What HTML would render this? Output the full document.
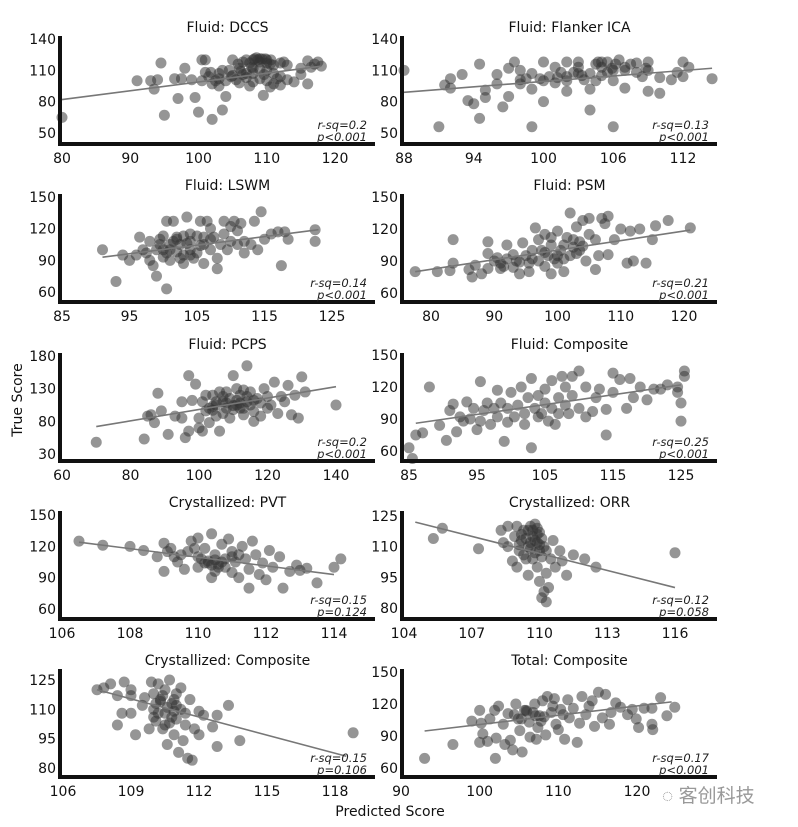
<!DOCTYPE html>
<html><head><meta charset="utf-8">
<style>
html,body{margin:0;padding:0;background:#fff;}
svg{display:block;font-family:"DejaVu Sans","Liberation Sans",sans-serif;}
</style></head>
<body>
<svg id="chart" width="798" height="827" viewBox="0 0 798 827"></svg>
<script>
const titles = ["Fluid: DCCS","Fluid: Flanker ICA","Fluid: LSWM","Fluid: PSM","Fluid: PCPS","Fluid: Composite","Crystallized: PVT","Crystallized: ORR","Crystallized: Composite","Total: Composite"];
const xTickVals = [[80,90,100,110,120],[88,94,100,106,112],[85,95,105,115,125],[80,90,100,110,120],[60,80,100,120,140],[85,95,105,115,125],[106,108,110,112,114],[104,107,110,113,116],[106,109,112,115,118],[90,100,110,120]];
const yTickVals = [[50,80,110,140],[50,80,110,140],[60,90,120,150],[60,90,120,150],[30,80,130,180],[60,90,120,150],[60,90,120,150],[80,95,110,125],[80,95,110,125],[60,90,120,150]];
const rsq = ["r-sq=0.2","r-sq=0.13","r-sq=0.14","r-sq=0.21","r-sq=0.2","r-sq=0.25","r-sq=0.15","r-sq=0.12","r-sq=0.15","r-sq=0.17"];
const pvals = ["p<0.001","p<0.001","p<0.001","p<0.001","p<0.001","p<0.001","p=0.124","p=0.058","p=0.106","p<0.001"];
const fitLines = [[80,82,118,114],[88,89,114.5,112],[91,93,123,119],[77.5,80,121,119],[70,72,140,133],[86,86,125,122],[106.5,124,114,93],[104.5,122,116,90],[107.5,120,118.5,86],[93,94.7,124.4,122]];

const dccsPts = [[80,65],[91,100],[93,100],[93.5,92],[94,101],[94.5,117],[95,67],[96.5,102],[97,83],[97.5,102],[98,112],[99,101],[99.5,84],[100,70],[100.5,120],[101,120],[101,108],[101.5,104],[102,97],[102,63],[103,107],[103,95],[103.5,72],[104,85],[104,100],[104.5,110],[105,120],[105,105],[106,98],[106,112],[106.5,118],[107,120],[107,107],[107.5,95],[108,112],[108,120],[108.5,122],[109,121],[109,118],[109,102],[109.5,86],[110,120],[110,110],[110,100],[110.5,94],[111,115],[111,97],[112,117],[112,104],[112,96],[112.5,118],[113,101],[114,99],[115,106],[115,112],[116,97],[116,119],[116.5,113],[117,116],[117.5,118],[118,114],[107,103],[105.5,101],[108,99],[111,107],[113,115],[103.5,110],[100.5,100],[109,111],[110.5,116],[108,107],[106.5,106],[108.7,120],[109.3,121],[107.5,117],[110,117],[108.2,121],[109.8,121],[110.6,120],[107.8,113],[106.2,109],[104.8,104],[102.5,100],[111.5,102],[109.6,106],[105.8,116],[101.8,108],[103,102]];
const flankerPts = [[88,110],[91,56],[91.5,96],[92,93],[93,106],[93.5,81],[94,78],[94.5,64],[94.5,116],[95,91],[95,84],[96,97],[96,106],[96.5,75],[97,85],[97,112],[97.5,118],[98,97],[98,110],[98.5,102],[99,107],[99,92],[99,56],[100,118],[100,100],[100,80],[101,98],[101,113],[101.5,108],[102,118],[102,100],[102,90],[103,118],[103,107],[103.5,101],[104,72],[104,92],[104.5,100],[105,118],[105,113],[105.5,108],[106,110],[106,100],[106,56],[106.5,120],[107,113],[107,93],[107.5,116],[108,117],[108,108],[108.5,104],[109,110],[109,118],[109,90],[110,88],[110,103],[111,101],[111.5,108],[112,118],[112.5,113],[112,104],[114.5,102],[104,107],[103,113],[100.5,104],[105,105],[107,110],[102,104],[98,101],[92,102],[104.5,116],[105.5,118],[104.7,118],[106.2,116],[103.3,105],[101.2,103],[99.7,102],[102.6,108],[105.9,112],[108.8,112]];
const lswmPts = [[91,100],[93,70],[94,95],[95,90],[96,95],[96.5,112],[97,100],[97.5,97],[98,90],[98,108],[98.5,85],[99,75],[99,100],[99.5,105],[100,93],[100,113],[100.5,127],[100.5,63],[101,105],[101,90],[101.5,127],[102,112],[102,98],[102.5,105],[103,87],[103,113],[103.5,131],[104,100],[104,108],[104.5,92],[105,113],[105,97],[105.5,127],[106,105],[106,87],[106.5,127],[107,120],[107,100],[107.5,112],[108,82],[108,92],[108.5,105],[109,127],[109,115],[109.5,100],[110,108],[110,122],[110.5,127],[111,118],[111,105],[111.5,125],[112,97],[112,108],[113,105],[113.5,127],[114,100],[114.5,136],[115,110],[116,115],[117,117],[117.5,85],[118,117],[118.5,110],[122.5,108],[122.5,119],[100,100],[102,110],[104,115],[107,110],[101,100],[103,95],[99.5,110],[101.5,108],[103.5,106],[105.5,104],[100.5,97],[102.5,92],[106,112],[104,95]];
const psmPts = [[77.5,80],[81,80],[83,81],[83.5,88],[83.5,110],[86,82],[86.5,75],[87,86],[88,78],[89,83],[89,97],[89,108],[90,90],[90.5,93],[91,83],[91.5,85],[92,92],[92,105],[93,84],[93,96],[94,78],[94,89],[94.5,107],[95,95],[95.5,80],[96,92],[96,100],[96.5,121],[97,110],[97,90],[97.5,100],[98,85],[98,115],[98.5,95],[99,78],[99,105],[99.5,92],[100,88],[100,118],[100.5,100],[101,80],[101,105],[101.5,112],[102,95],[102,135],[102.5,110],[103,97],[103,122],[103.5,100],[104,104],[104,128],[104.5,90],[105,115],[105,130],[106,110],[106,82],[106.5,95],[107,130],[107.5,125],[108,96],[108,132],[109,110],[110,120],[111,88],[111.5,118],[112,90],[113,120],[114,88],[115,110],[115.5,123],[117.5,128],[121,121],[98,98],[101,92],[99,112],[91,88],[93.5,90],[95.5,88],[102.5,103],[103.5,108],[100,95]];
const pcpsPts = [[70,48],[84,53],[85,88],[86,90],[87,78],[88,123],[89,96],[91,60],[93,88],[95,85],[95,110],[96,55],[97,150],[97,65],[98,112],[99,137],[100,85],[100,70],[101,110],[101,65],[102,96],[102,120],[103,100],[103,78],[104,120],[104,97],[105,105],[105,88],[106,125],[106,65],[107,110],[107,92],[108,100],[108,125],[109,115],[109,85],[110,98],[110,150],[111,105],[111,130],[112,100],[112,120],[113,90],[113,128],[114,110],[114,165],[115,125],[115,105],[116,80],[116,95],[117,115],[118,108],[118,88],[119,130],[120,118],[120,100],[121,105],[122,140],[123,92],[124,118],[125,110],[126,135],[127,90],[128,120],[129,85],[130,148],[131,125],[140,105],[111,112],[113,100],[107,118],[105,110],[112,108],[110,104],[114,118],[104,103],[108,108],[116,112]];
const fcompPts = [[85,63],[85.5,53],[86,75],[87,77],[88,120],[89.5,84],[90.5,70],[91,98],[91.5,104],[92,78],[92.5,92],[93,88],[93.5,106],[94,90],[94.5,100],[95,80],[95.5,125],[95.5,88],[96,98],[96.5,105],[97,85],[97.5,100],[98,117],[98,92],[98.5,105],[99,69],[99.5,100],[99.5,87],[100,115],[100.5,92],[101,103],[101.5,120],[102,95],[102,85],[102.5,110],[103,63],[103,128],[103.5,100],[104,92],[104,112],[104.5,95],[105,118],[105,105],[105.5,88],[106,126],[106,100],[106.5,85],[107,110],[107,95],[107.5,130],[108,120],[108,103],[108.5,95],[109,130],[109,112],[110,135],[110,100],[111,120],[111,92],[112,97],[112.5,110],[113,118],[114,99],[114,75],[115,115],[115,133],[116,127],[117,100],[117.5,128],[118,110],[119,120],[120,108],[121,118],[122,118],[123,122],[124.5,120],[124.5,115],[125,105],[125,88],[125.5,135],[125.5,130]];
const pvtPts = [[106.5,125],[107.2,121],[108,120],[108.4,116],[108.8,110],[109,96],[109,123],[109.2,118],[109.4,105],[109.6,98],[109.7,115],[109.8,125],[110,110],[110,100],[110,128],[110.2,118],[110.3,106],[110.4,90],[110.4,132],[110.5,112],[110.6,100],[110.7,122],[110.8,108],[110.9,127],[111,95],[111,115],[111.1,105],[111.2,90],[111.3,120],[111.4,108],[111.5,98],[111.6,125],[111.7,112],[111.8,93],[111.9,104],[112,88],[112.1,116],[112.2,100],[112.4,110],[112.5,80],[112.7,96],[112.9,102],[113,97],[113.2,99],[113.5,85],[114,100],[114.2,108],[110.2,104],[110.5,107],[111,110],[109.5,112],[110.8,100],[111.5,80],[110.3,104],[110.6,103],[110.1,108],[110.4,102],[110.7,105],[109.9,118],[109.3,110],[111.2,112],[110.5,96],[109.1,115]];
const orrPts = [[105.3,114],[105.7,119],[107.3,109],[108.3,118],[108.4,112],[108.6,110],[108.6,120],[108.8,103],[108.9,115],[109,100],[109,120],[109.1,108],[109.2,113],[109.3,118],[109.4,104],[109.5,96],[109.5,110],[109.6,120],[109.7,115],[109.8,107],[109.8,121],[109.9,100],[109.9,112],[110,93],[110,117],[110.1,105],[110.1,85],[110.2,88],[110.2,110],[110.3,83],[110.3,97],[110.4,90],[110.5,104],[110.6,113],[110.7,100],[110.9,108],[111,103],[111.2,96],[111.5,106],[112,104],[112.5,100],[116,107],[109.6,112],[110,108],[109.3,106],[109.7,118],[109.9,116],[109.4,114],[109.6,109],[109.8,113],[110,111],[109.2,116],[109.7,104],[110.1,114],[109.5,118],[109.9,119],[110.3,108],[109.1,111]];
const ccompPts = [[107.5,120],[107.8,121],[108.1,123],[108.4,117],[108.4,102],[108.6,108],[108.7,124],[109,117],[109,108],[109,120],[109.2,97],[109.5,112],[109.6,116],[109.8,100],[109.9,124],[110,110],[110,118],[110.1,104],[110.2,123],[110.3,114],[110.4,100],[110.5,108],[110.5,120],[110.6,92],[110.7,125],[110.8,113],[110.9,97],[111,105],[111,118],[111.1,88],[111.2,110],[111.3,94],[111.4,102],[111.5,85],[111.6,115],[111.7,84],[111.8,100],[112,97],[112,109],[112.2,107],[112.6,101],[112.8,91],[112.8,107],[113.3,112],[113.8,94],[118.8,98],[110.3,115],[110.8,106],[111,112],[110,106],[110.4,117],[110.6,111],[110.9,115],[110.2,108],[110.7,103],[111.2,121],[110.1,113],[110.5,102],[111.4,108],[110.9,109]];
const totalPts = [[93,69],[96.6,82],[99,104],[100,114],[100.2,102],[100.4,92],[100,84],[101,85],[101.3,106],[101.9,114],[102.1,88],[102,69],[102.4,118],[103,101],[103.2,82],[103.6,111],[103.9,86],[104.2,77],[104.6,120],[104.9,106],[105.1,95],[105.4,75],[105.7,114],[106,113],[106.3,103],[106.4,89],[107,120],[107.1,109],[107.2,87],[107.4,98],[107.8,104],[108,123],[108.4,91],[108.6,127],[109.1,112],[109.5,125],[109.7,101],[110,96],[110.3,115],[110.8,87],[111.2,124],[111.4,107],[111.9,116],[112.4,84],[112.7,102],[113,127],[113.5,110],[113.9,118],[114.3,123],[114.6,99],[115.1,131],[115.6,107],[116,129],[116.5,101],[116.7,112],[117.3,121],[117.9,117],[118.8,110],[119.4,115],[119.9,106],[120.2,98],[120.9,116],[121.9,116],[121.9,101],[122,96],[123,126],[123.8,109],[124.8,117],[105.9,114],[107.6,109],[105.3,106],[106.8,112],[108.2,108],[104.4,110],[109.3,118],[110.6,110]];
const allPts = [dccsPts,flankerPts,lswmPts,psmPts,pcpsPts,fcompPts,pvtPts,orrPts,ccompPts,totalPts];

// layout (pixel calibration, not data)
const colAxis = [[60,375],[402,717]];
const rowBase = [144,302,461,619,777];
const xCal = [[62,335],[404,683],[62,332],[431,684],[62,336],[409,681],[62,334],[404,675],[63,335],[401,637]];
const yCal = [[133,39],[133,39],[292,197],[293,197],[454,356],[451,355],[609,515],[608,516],[768,680],[768,672]];

const NS="http://www.w3.org/2000/svg";
const svg=document.getElementById('chart');
function mk(tag,attrs,parent){const e=document.createElementNS(NS,tag);for(const k in attrs)e.setAttribute(k,attrs[k]);(parent||svg).appendChild(e);return e;}

titles.forEach((t,i)=>{
  const col=i%2,row=Math.floor(i/2);
  const [axL,axR]=colAxis[col];const base=rowBase[row];const top=base-108;
  const xv=xTickVals[i],yv=yTickVals[i];
  const x0=xv[0],x1=xv[xv.length-1],y0=yv[0],y1=yv[yv.length-1];
  const sx=v=>xCal[i][0]+(v-x0)*(xCal[i][1]-xCal[i][0])/(x1-x0);
  const sy=v=>yCal[i][0]+(v-y0)*(yCal[i][1]-yCal[i][0])/(y1-y0);
  const g=mk('g',{});
  
  
  const tt=mk('text',{x:(axL+axR)/2+10,y:top-4,'text-anchor':'middle','font-size':'14',fill:'#111'},g);
  tt.textContent=t;
  
  
  allPts[i].forEach(p=>{
    const c=mk('circle',{cx:sx(p[0]),cy:sy(p[1]),r:5.5,fill:'#333','fill-opacity':0.52},g);
    
    
  });
  const f=fitLines[i];
  const ln=mk('line',{x1:sx(f[0]),y1:sy(f[1]),x2:sx(f[2]),y2:sy(f[3]),stroke:'#777','stroke-width':1.6},g);
  
  
  const ya=mk('line',{x1:axL,y1:top,x2:axL,y2:base+2,stroke:'#111','stroke-width':4},g);
  
  
  const xa=mk('line',{x1:axL-2,y1:base,x2:axR,y2:base,stroke:'#111','stroke-width':4},g);
  
  
  xv.forEach(v=>{
    const tl=mk('text',{x:sx(v),y:base+19,'text-anchor':'middle','font-size':'14',fill:'#111'},g);
    tl.textContent=v;
    
    
  });
  yv.forEach(v=>{
    const tl=mk('text',{x:axL-4,y:sy(v)+5,'text-anchor':'end','font-size':'14',fill:'#111'},g);
    tl.textContent=v;
    
    
  });
  const r1=mk('text',{x:axR-8,y:base-15,'text-anchor':'end','font-size':'11.5','font-style':'italic',fill:'#222'},g);
  r1.textContent=rsq[i];
  
  
  const r2=mk('text',{x:axR-8,y:base-3,'text-anchor':'end','font-size':'11.5','font-style':'italic',fill:'#222'},g);
  r2.textContent=pvals[i];
  
  
});
</script>
<div style="position:absolute;left:0;top:0;width:798px;height:827px;pointer-events:none;font-family:'DejaVu Sans','Liberation Sans',sans-serif;">
  <div style="position:absolute;left:-32px;top:392px;width:100px;text-align:center;font-size:14px;color:#111;transform:rotate(-90deg);">True Score</div>
  <div style="position:absolute;left:300px;top:804px;width:180px;text-align:center;font-size:14px;color:#111;">Predicted Score</div>
  <div style="position:absolute;left:662px;top:781px;font-size:19px;color:#999;font-family:'Liberation Sans','Noto Sans CJK SC',sans-serif;">◌ 客创科技</div>
</div>
</body></html>
